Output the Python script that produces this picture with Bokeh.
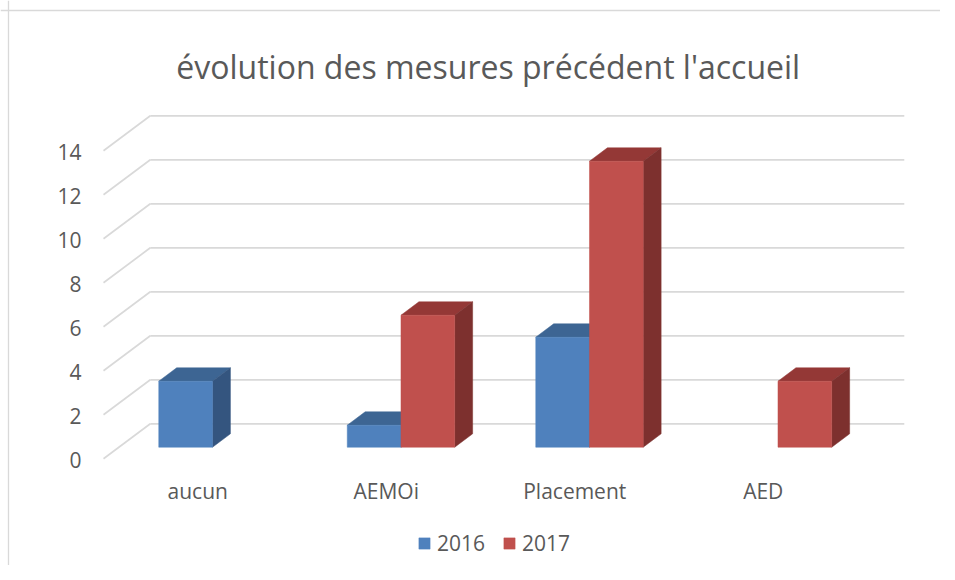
from bokeh.plotting import figure
from bokeh.models import Legend, LegendItem, Span
from bokeh.embed import file_html
from bokeh.resources import INLINE
from bokeh.core.properties import value

# ---------------- data ----------------
categories = ["aucun", "AEMOi", "Placement", "AED"]
series_names = ["2016", "2017"]
values_2016 = [3, 1, 5, 0]
values_2017 = [0, 6, 13, 3]
y_ticks = [0, 2, 4, 6, 8, 10, 12, 14]
title_text = "évolution des mesures précédent l'accueil"

# ---------------- layout constants ----------------
W, H = 940, 565
X0_PX, X_UNIT = 103.0, 188.5     # front plane: px = X0_PX + X_UNIT * x
Y0_PX, Y_UNIT = 458.3, 22.0      # front plane: py (from top) = Y0_PX - Y_UNIT * v
DX = 46.8 / X_UNIT               # depth offset (full depth) in data units
DY = 35.0 / Y_UNIT
GAP, BW = 0.211, 0.285           # bar gap and bar width (category units)
D0, D1 = 0.331, 0.714            # bar front / back depth fractions
FONT_NAME = "Open Sans"
FONT = value(FONT_NAME)
TXT = "#595959"
GRID = "#D9D9D9"

def x_of(px):
    return (px - X0_PX) / X_UNIT

def y_of(py):
    return (Y0_PX - py) / Y_UNIT

p = figure(width=W, height=H,
           x_range=(x_of(0), x_of(W)), y_range=(y_of(H), y_of(0)),
           x_axis_location=None, y_axis_location=None,
           output_backend="svg", toolbar_location=None, min_border=0)
p.grid.visible = False
p.outline_line_color = None
p.background_fill_color = "white"
p.border_fill_color = "white"

# chart border (left and top edges visible)
p.add_layout(Span(location=x_of(8.0), dimension="height", line_color=GRID, line_width=1.3))
p.add_layout(Span(location=y_of(10.0), dimension="width", line_color=GRID, line_width=1.3))

n = len(categories)
# back wall gridlines
p.segment(x0=[DX] * len(y_ticks), y0=[t + DY for t in y_ticks],
          x1=[n + DX] * len(y_ticks), y1=[t + DY for t in y_ticks],
          line_color=GRID, line_width=1.7)
# side-wall diagonals
p.segment(x0=[0] * len(y_ticks), y0=y_ticks,
          x1=[DX] * len(y_ticks), y1=[t + DY for t in y_ticks],
          line_color=GRID, line_width=1.7)

# bars
palette = {
    "2016": ("#4F81BD", "#3D6593", "#34557F"),
    "2017": ("#C0504D", "#943836", "#7D302E"),
}
legend_renderers = []
for s, (name, vals) in enumerate(zip(series_names, [values_2016, values_2017])):
    cf, ct, cs = palette[name]
    left, right, bottom, top = [], [], [], []
    txs, tys, sxs, sys_ = [], [], [], []
    for i, v in enumerate(vals):
        if v <= 0:
            continue
        xa = i + GAP + s * BW
        xb = xa + BW
        left.append(xa + D0 * DX)
        right.append(xb + D0 * DX)
        bottom.append(D0 * DY)
        top.append(v + D0 * DY)
        txs.append([xa + D0 * DX, xb + D0 * DX, xb + D1 * DX, xa + D1 * DX])
        tys.append([v + D0 * DY, v + D0 * DY, v + D1 * DY, v + D1 * DY])
        sxs.append([xb + D0 * DX, xb + D1 * DX, xb + D1 * DX, xb + D0 * DX])
        sys_.append([D0 * DY, D1 * DY, v + D1 * DY, v + D0 * DY])
    p.patches(txs, tys, fill_color=ct, line_color=ct, line_width=0.5)
    p.patches(sxs, sys_, fill_color=cs, line_color=cs, line_width=0.5)
    r = p.quad(left=left, right=right, bottom=bottom, top=top,
               fill_color=cf, line_color=cf, line_width=0.5)
    legend_renderers.append(r)

# y tick labels (front plane)
p.text(x=[0] * len(y_ticks), y=y_ticks, text=[str(t) for t in y_ticks],
       x_offset=-22, y_offset=1.5, text_align="right", text_baseline="middle",
       text_font=FONT, text_font_size="21px", text_color=TXT)

# category labels
p.text(x=[i + 0.5 for i in range(n)], y=[0] * n, text=categories,
       y_offset=32, text_align="center", text_baseline="middle",
       text_font=FONT, text_font_size="21px", text_color=TXT)

# title
p.text(x=[x_of(487.7)], y=[y_of(65.5)], text=[title_text],
       text_align="center", text_baseline="alphabetic",
       text_font=FONT, text_font_size="32px", text_color=TXT)

legend = Legend(items=[LegendItem(label=nm, renderers=[r])
                       for nm, r in zip(series_names, legend_renderers)],
                orientation="horizontal", location=(417, 8),
                border_line_color=None, background_fill_alpha=0,
                padding=0, margin=0, spacing=17, label_standoff=6,
                glyph_width=14, glyph_height=14, label_height=14,
                label_text_font=FONT_NAME, label_text_font_size="21px",
                label_text_color=TXT)
p.add_layout(legend)

open("out.html", "w").write(file_html(p, INLINE))
